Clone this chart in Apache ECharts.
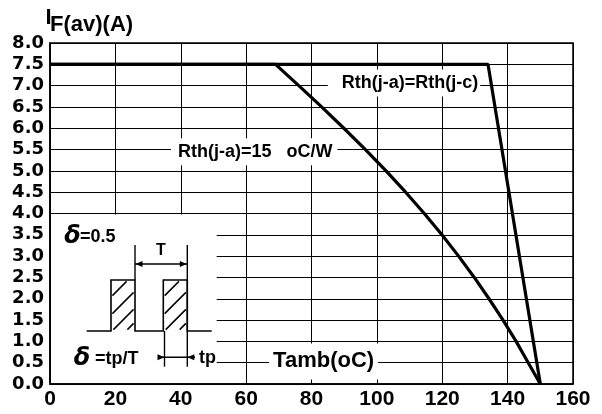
<!DOCTYPE html>
<html>
<head>
<meta charset="utf-8">
<script src="https://cdn.jsdelivr.net/npm/echarts@6/dist/echarts.min.js"></script>
<style>
  html, body { margin: 0; padding: 0; background: #fff; }
  #chart { width: 602px; height: 414px; }
</style>
</head>
<body>
<div id="chart"></div>
<script>
// Axis ranges (ambient temperature in °C, average forward current in A)
const tambMin = 0, tambMax = 160, tambStep = 20;
const ifMin = 0, ifMax = 8, ifStep = 0.5;

// Derating curve for Rth(j-a) = 15 °C/W
const tambRth15 = [0, 69, 76.1, 83.1, 89.9, 96.5, 102.8, 108.8, 114.5, 119.9, 125.0, 129.8, 134.3, 138.6, 142.6, 146.3, 150];
const ifRth15   = [7.5, 7.5, 7.0, 6.5, 6.0, 5.5, 5.0, 4.5, 4.0, 3.5, 3.0, 2.5, 2.0, 1.5, 1.0, 0.5, 0];

// Derating curve for Rth(j-a) = Rth(j-c)
const tambRthJc = [0, 134, 150];
const ifRthJc   = [7.5, 7.5, 0];

const FONT_AR = '"Liberation Sans", Arial, sans-serif';
const FONT_DV = '"DejaVu Sans", sans-serif';

const chart = echarts.init(document.getElementById('chart'), null, { renderer: 'canvas' });

const pairs = (xs, ys) => xs.map((x, i) => [x, ys[i]]);

chart.setOption({
  animation: false,
  backgroundColor: '#fff',
  grid: {
    left: 50, right: 29, top: 43, bottom: 30,
    show: true, borderColor: '#000', borderWidth: 1.5, backgroundColor: 'transparent'
  },
  xAxis: {
    type: 'value', min: tambMin, max: tambMax, interval: tambStep,
    axisLine: { show: true, lineStyle: { color: '#000', width: 1.5 } },
    axisTick: { show: false },
    splitLine: { show: true, lineStyle: { color: '#000', width: 1 } },
    axisLabel: {
      color: '#000', fontFamily: FONT_AR, fontWeight: 'bold', fontSize: 21, margin: 5
    }
  },
  yAxis: {
    type: 'value', min: ifMin, max: ifMax, interval: ifStep,
    axisLine: { show: true, lineStyle: { color: '#000', width: 1.5 } },
    axisTick: { show: false },
    splitLine: { show: true, lineStyle: { color: '#000', width: 1 } },
    axisLabel: {
      color: '#000', fontFamily: FONT_DV, fontWeight: 'bold', fontSize: 18, margin: 6,
      formatter: v => v.toFixed(1)
    }
  },
  series: [
    {
      type: 'line', data: pairs(tambRth15, ifRth15), showSymbol: false, smooth: false,
      lineStyle: { color: '#000', width: 3.2, join: 'round' }, z: 5
    },
    {
      type: 'line', data: pairs(tambRthJc, ifRthJc), showSymbol: false,
      lineStyle: { color: '#000', width: 3.2 }, z: 5
    }
  ]
});

// ---- annotations and the duty-cycle inset ----
const P = (x, y) => chart.convertToPixel({ gridIndex: 0 }, [x, y]);
const o = P(0, 0);
const q = (dx, dy) => [o[0] + dx, o[1] - dy];   // offset from plot origin, dy upwards

const els = [];
const line = (a, b, w) => els.push({
  type: 'line', z: 110,
  shape: { x1: a[0], y1: a[1], x2: b[0], y2: b[1] },
  style: { stroke: '#000', lineWidth: w || 1.6 }
});
const poly = (pts, w) => els.push({
  type: 'polyline', z: 110, shape: { points: pts },
  style: { stroke: '#000', lineWidth: w || 1.6, fill: null }
});
const arrow = (tip, dir) => {   // dir: +1 points right, -1 points left
  const L = 7, H = 3;
  els.push({
    type: 'polygon', z: 111,
    shape: { points: [tip, [tip[0] - dir * L, tip[1] - H], [tip[0] - dir * L, tip[1] + H]] },
    style: { fill: '#000' }
  });
};
const text = (t, p, opt) => els.push({
  type: 'text', z: 120, x: p[0], y: p[1],
  style: Object.assign({
    text: t, fill: '#000', font: 'bold 18px ' + FONT_AR,
    align: 'left', verticalAlign: 'middle'
  }, opt || {})
});

// white panel under the inset
const r0 = P(0, 4.0), r1 = P(51, 0);
els.push({
  type: 'rect', z: 100,
  shape: { x: r0[0] + 1, y: r0[1] + 1, width: r1[0] - r0[0] - 1, height: r1[1] - r0[1] - 2 },
  style: { fill: '#fff' }
});

// pulse train
const pulseBase = 53, pulseTop = 104;
const p1 = [61, 85], p2 = [113.3, 137.3];
poly([q(36.7, pulseBase), q(p1[0], pulseBase), q(p1[0], pulseTop), q(p1[1], pulseTop), q(p1[1], pulseBase),
      q(p2[0], pulseBase), q(p2[0], pulseTop), q(p2[1], pulseTop), q(p2[1], pulseBase), q(161.7, pulseBase)]);

// hatching inside pulses (lines at 45°, clipped to each pulse)
const hatch = (xa, xb, offs) => {
  const yTop = o[1] - pulseTop, yBot = o[1] - pulseBase;
  const x0 = o[0] + xa, x1 = o[0] + xb;
  offs.forEach(k => {
    const c = x0 + yTop + k;   // x + y = c
    let ax = x0, ay = c - ax;
    if (ay > yBot) { ay = yBot; ax = c - ay; }
    let bx = x1, by = c - bx;
    if (by < yTop) { by = yTop; bx = c - by; }
    const pad = 2;
    line([ax + pad * 0.7, ay - pad * 0.7], [bx - pad * 0.7, by + pad * 0.7], 1.5);
  });
};
hatch(p1[0], p1[1], [17, 35, 52, 66]);
hatch(p2[0], p2[1], [17, 35, 52, 66]);

// period T dimension
line(q(p1[1], pulseTop), q(p1[1], 139), 1.4);
line(q(p2[1], 17.3), q(p2[1], 139), 1.4);
line(q(p1[1], 120), q(p2[1], 120), 1.4);
arrow(q(p1[1] + 0.5, 120), -1);
arrow(q(p2[1] - 0.5, 120), 1);
text('T', q(111, 133), { align: 'center', font: 'bold 16px ' + FONT_AR });

// pulse width tp dimension
line(q(114.5, pulseBase), q(114.5, 17.3), 1.4);
line(q(108, 26.7), q(145, 26.7), 1.4);
arrow(q(114.5, 26.7), 1);
arrow(q(p2[1], 26.7), -1);
text('tp', q(149, 25.5));

// duty-cycle labels
text('\u03b4', q(22.5, 147), { align: 'center', font: 'italic bold 24px ' + FONT_DV });
text('=0.5', q(30, 147));
text('\u03b4', q(32, 25.5), { align: 'center', font: 'italic bold 24px ' + FONT_DV });
text('=tp/T', q(45, 24.5));

// curve labels with white backgrounds breaking the grid
const lbl = (t, p, opt) => text(t, p, Object.assign({ backgroundColor: '#fff' }, opt));
lbl('Rth(j-a)=Rth(j-c)', P(108.3, 7.06), { align: 'center', padding: [5, 2, 4, 14] });
lbl('Rth(j-a)=15   oC/W', P(37.0, 5.45), { align: 'left', padding: [5, 5, 4, 7] });
lbl('Tamb(oC)', P(83.7, 0.53), { align: 'center', font: 'bold 22px ' + FONT_AR, padding: [8, 4, 6, 4] });

// axis title
text('I', [45.5, 17.5], { font: 'bold 22px ' + FONT_AR });
text('F(av)(A)', [50, 24.5], { font: 'bold 22px ' + FONT_AR });

chart.setOption({ graphic: { elements: els } });
</script>
</body>
</html>
